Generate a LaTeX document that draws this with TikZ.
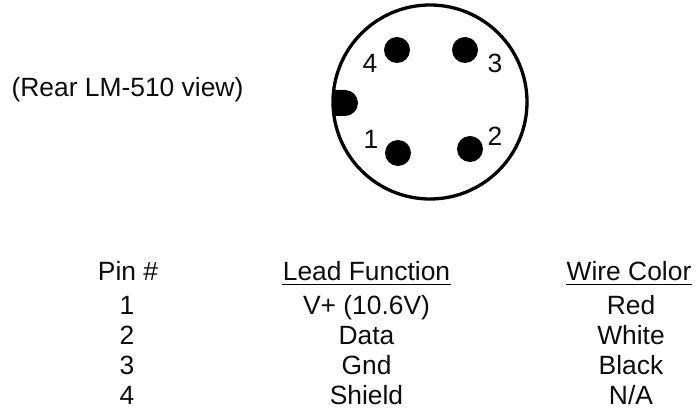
\documentclass[tikz,border=0pt]{standalone}
\usepackage{fontspec}
\setmainfont{Liberation Sans}
\tikzset{
  lbl/.style={inner sep=0pt,anchor=base,font=\fontsize{26.4}{30}\selectfont,text=black!95},
  pin/.style={circle,fill=black,inner sep=0pt,minimum size=26pt}
}
\begin{document}
\begin{tikzpicture}[x=1pt,y=-1pt]
\useasboundingbox (0,0) rectangle (697,411);
\node[circle,draw=black,line width=3.3pt,minimum size=194pt,inner sep=0pt] (shell) at (430,102) {};
\node[pin] (p4) at (397,50) {};
\node[pin] (p3) at (465,50) {};
\node[pin] (p1) at (398,153) {};
\node[pin] (p2) at (470,149) {};
\begin{scope}
\clip (430,102) circle (97pt);
\fill[black] (320,90) -- (345,90) arc (90:-90:13pt) -- (320,116) -- cycle;
\end{scope}
\node[lbl] (l4) at (370,73) {4};
\node[lbl] (l3) at (495,73) {3};
\node[lbl] (l1) at (371,149) {1};
\node[lbl] (l2) at (495,146) {2};
\node[lbl] (view) at (127.5,97) {(Rear LM-510 view)};
\node[lbl] (h1) at (128,281) {Pin \#};
\node[lbl] at (127,314.5) {1};
\node[lbl] at (127,345) {2};
\node[lbl] at (127,375) {3};
\node[lbl] at (127,405) {4};
\node[lbl] (h2) at (366.5,281) {Lead Function};
\draw[line width=1pt] (h2.base west)++(-1,4) -- ++(169,0);
\node[lbl] at (366.5,314.5) {V+ (10.6V)};
\node[lbl] at (366.5,345) {Data};
\node[lbl] at (366.5,375) {Gnd};
\node[lbl] at (366.5,405) {Shield};
\node[lbl] (h3) at (629,281) {Wire Color};
\draw[line width=1pt] (h3.base west)++(0,4) -- ++(126,0);
\node[lbl] at (631,314.5) {Red};
\node[lbl] at (631,345) {White};
\node[lbl] at (631,375) {Black};
\node[lbl] at (631,405) {N/A};
\end{tikzpicture}
\end{document}
